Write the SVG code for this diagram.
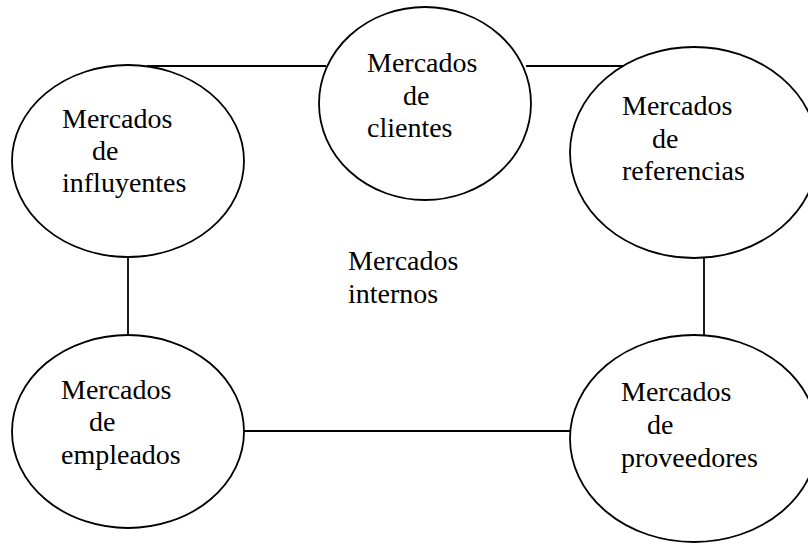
<svg xmlns="http://www.w3.org/2000/svg" width="808" height="544" viewBox="0 0 808 544">
<style>
.n{fill:#fff;stroke:#000;stroke-width:1.8}
.c{stroke:#000;stroke-width:1.8;fill:none}
text{font-family:"Liberation Serif","Times New Roman",serif;font-size:28px;fill:#000}
</style>
<rect width="808" height="544" fill="#fff"/>
<g id="connectors">
<line class="c" x1="147" y1="66" x2="326" y2="66"/>
<line class="c" x1="526" y1="66" x2="627" y2="66"/>
<line class="c" x1="128" y1="257" x2="128" y2="335"/>
<line class="c" x1="704" y1="257" x2="704" y2="335"/>
<line class="c" x1="244" y1="431" x2="570" y2="431"/>
</g>
<g id="clientes">
<ellipse class="n" cx="425" cy="103.5" rx="106" ry="96.5"/>
<text x="367" y="72">Mercados</text>
<text x="403" y="105">de</text>
<text x="367" y="137">clientes</text>
</g>
<g id="influyentes">
<ellipse class="n" cx="128" cy="161" rx="116" ry="96"/>
<text x="62" y="128">Mercados</text>
<text x="92" y="160">de</text>
<text x="62" y="192">influyentes</text>
</g>
<g id="referencias">
<ellipse class="n" cx="694" cy="152.5" rx="124" ry="105.5"/>
<text x="622" y="115">Mercados</text>
<text x="652" y="148">de</text>
<text x="622" y="180">referencias</text>
</g>
<g id="internos">
<text x="348" y="270">Mercados</text>
<text x="348" y="303">internos</text>
</g>
<g id="empleados">
<ellipse class="n" cx="128" cy="431.5" rx="116" ry="96.5"/>
<text x="61" y="399">Mercados</text>
<text x="89" y="431">de</text>
<text x="61" y="464">empleados</text>
</g>
<g id="proveedores">
<ellipse class="n" cx="694" cy="438.5" rx="124" ry="103.5"/>
<text x="621" y="401">Mercados</text>
<text x="647" y="434">de</text>
<text x="621" y="467">proveedores</text>
</g>
</svg>
